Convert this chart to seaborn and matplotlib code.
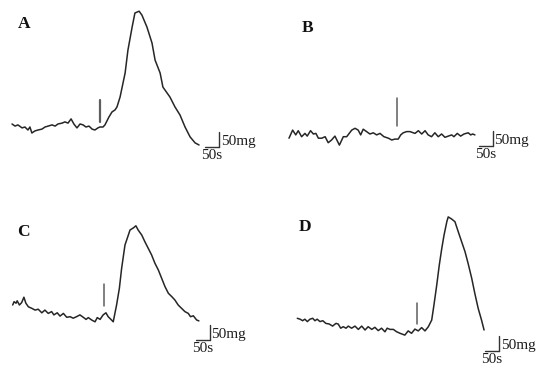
import matplotlib
matplotlib.use("Agg")
import matplotlib.pyplot as plt
import seaborn as sns
import pandas as pd

# Traces: time in s, force in mg (relative to start of trace)
a_time = [0, 11, 21, 36, 46, 57, 64, 71, 82, 93, 107, 118, 129, 143, 154, 164, 179, 189, 200, 211,
          221, 232, 243, 254, 264, 275, 286, 296, 307, 314, 325, 332, 339, 346, 357, 368, 375, 386,
          404, 414, 429, 439, 454, 464, 482, 500, 511, 529, 539, 564, 582, 600, 618, 636, 654, 668]
a_force = [0, -7, -3, -13, -10, -20, -10, -30, -23, -20, -17, -10, -7, -3, -7, 0, 3, 7, 3, 17,
           0, -13, 0, -3, -10, -7, -17, -20, -13, -10, -10, -3, 10, 23, 40, 47, 57, 90,
           170, 246, 323, 370, 376, 363, 323, 270, 213, 170, 123, 90, 57, 30, -10, -43, -63, -70]

b_time = [0, 13, 24, 33, 45, 57, 65, 77, 87, 96, 105, 117, 129, 140, 152, 164, 180, 194, 206, 224,
          236, 247, 256, 265, 277, 289, 301, 313, 325, 339, 355, 367, 378, 390, 399, 408, 420, 432,
          450, 462, 474, 486, 497, 509, 521, 533, 545, 557, 569, 581, 589, 601, 613, 625, 640, 649,
          656, 664]
b_force = [-4, 23, 7, 21, 1, 12, 3, 21, 10, 12, -4, -4, 1, -19, -10, 3, -27, 1, 1, 23,
           29, 23, 7, 26, 18, 10, 14, 7, 12, 1, -4, -10, -7, -7, 7, 14, 18, 18,
           12, 21, 10, 21, 7, 1, 14, 1, 10, -1, 3, 7, 1, 12, 3, 10, 14, 7,
           10, 7]

c_time = [0, 5, 12, 16, 24, 32, 40, 47, 56, 68, 80, 91, 104, 115, 127, 139, 147, 159, 169, 181,
          193, 205, 216, 228, 240, 252, 262, 270, 282, 294, 302, 312, 323, 333, 341, 353, 359, 371,
          381, 389, 401, 409, 419, 431, 440, 448, 461, 472, 484, 496, 508, 520, 532, 544, 556, 568,
          579, 591, 603, 615, 627, 635, 645, 657, 665]
c_force = [0, 11, 6, 14, 0, 8, 26, 6, -6, -11, -17, -14, -26, -17, -28, -22, -33, -26, -37, -28,
           -41, -39, -44, -39, -33, -41, -48, -42, -50, -56, -42, -48, -33, -26, -39, -50, -56, 0,
           56, 122, 200, 222, 250, 257, 264, 250, 233, 211, 189, 167, 139, 117, 89, 61, 39, 28,
           17, 0, -11, -22, -28, -39, -36, -50, -53]

d_time = [0, 10, 19, 27, 36, 45, 55, 63, 71, 81, 91, 102, 114, 126, 138, 146, 155, 164, 174, 182,
          194, 206, 218, 230, 242, 253, 266, 277, 289, 301, 313, 321, 331, 343, 355, 367, 384, 396,
          408, 420, 432, 444, 456, 468, 480, 488, 498, 507, 516, 524, 534, 539, 551, 563, 575, 587,
          599, 610, 623, 634, 646, 658, 667]
d_force = [0, -3, -8, -3, -11, -3, 0, -8, -3, -11, -8, -17, -19, -26, -17, -19, -33, -28, -33, -26,
           -33, -26, -37, -26, -39, -28, -37, -30, -41, -33, -45, -33, -37, -37, -45, -50, -56, -42,
           -50, -36, -42, -31, -42, -28, -6, 44, 111, 177, 233, 277, 322, 338, 331, 322, 288, 255,
           222, 183, 133, 83, 33, -6, -39]

labels = ["A", "B", "C", "D"]
traces = [(a_time, a_force), (b_time, b_force), (c_time, c_force), (d_time, d_force)]
drug_time = [314, 386, 327, 429]          # arrow (drug application) times, s

# layout (figure pixels) and annotation placement
W, H = 543, 372
S_PER_PX = 50 / 14
MG_PER_PX = 50 / 15
origins = [(12, 124), (289, 137), (12.7, 305), (297.3, 318.3)]
arrow_span = [(80, 7), (130, 37), (69, -3), (51, -20)]
bar_pos = [(739, -77), (727, -30), (703, -117), (719, -109)]
label_pos = [(24.5, 24), (308, 28), (23.3, 232.5), (305, 227)]

sns.set_theme(style="white")
plt.rcParams["font.family"] = ["Liberation Serif", "DejaVu Serif"]

fig = plt.figure(figsize=(W / 100, H / 100), dpi=100)
fig.patch.set_facecolor("white")

for i, lab in enumerate(labels):
    ox, oy = origins[i]
    ax = fig.add_axes([0, 0, 1, 1])
    ax.set_xlim(-ox * S_PER_PX, (W - ox) * S_PER_PX)
    ax.set_ylim(-(H - oy) * MG_PER_PX, oy * MG_PER_PX)
    ax.axis("off")
    ax.patch.set_alpha(0)

    df = pd.DataFrame({"time": traces[i][0], "force": traces[i][1]})
    sns.lineplot(data=df, x="time", y="force", ax=ax, color="#262626",
                 linewidth=1.1, sort=False, estimator=None)

    # drug application marker
    top, bot = arrow_span[i]
    ax.plot([drug_time[i], drug_time[i]], [top, bot], color="#5e5e5e",
            lw=1.6 if i == 0 else 1.1)

    # scale bars: 50 mg vertical, 50 s horizontal
    sx, sy = bar_pos[i]
    ax.plot([sx, sx], [sy, sy + 50], color="#333333", lw=1.0)
    ax.plot([sx - 50, sx], [sy, sy], color="#333333", lw=1.0)
    ax.text(sx + 2 * S_PER_PX, sy + 2 * MG_PER_PX, "50mg", fontsize=11,
            ha="left", va="baseline", color="#1e1e1e")
    ax.text(sx - 25, sy - 2 * MG_PER_PX, "50s", fontsize=11,
            ha="center", va="top", color="#1e1e1e")

    lx, ly = label_pos[i]
    fig.text(lx / W, 1 - ly / H, lab, fontsize=12.5, fontweight="bold",
             ha="center", va="center", color="#111111")

fig.savefig("out.png", dpi=100)
